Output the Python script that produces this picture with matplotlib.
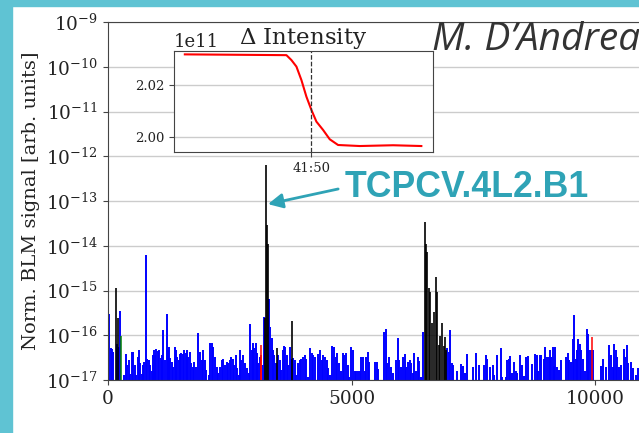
import numpy as np
import matplotlib
matplotlib.use('Agg')
import matplotlib.pyplot as plt
from matplotlib.patches import Rectangle

plt.rcParams['font.family'] = 'DejaVu Serif'
plt.rcParams['mathtext.fontset'] = 'dejavuserif'

# loss map: s position [m] and log10 of normalised BLM signal
blue_s = [27, 55, 82, 110, 178, 226, 253, 329, 370, 397, 424, 459, 493, 520, 554, 582, 609, 630, 657, 691,
          719, 746, 773, 808, 835, 869, 897, 924, 944, 965, 992, 1020, 1047, 1081, 1109, 1136, 1163, 1204,
          1232, 1252, 1273, 1307, 1334, 1369, 1396, 1423, 1451, 1478, 1506, 1540, 1567, 1594, 1622, 1649,
          1677, 1704, 1738, 1772, 1800, 1848, 1896, 1923, 1950, 1991, 2019, 2067, 2101, 2128, 2163, 2190,
          2231, 2265, 2306, 2340, 2368, 2402, 2436, 2470, 2498, 2532, 2566, 2594, 2621, 2648, 2683, 2710,
          2737, 2772, 2806, 2847, 2888, 2922, 2949, 2977, 3004, 3031, 3059, 3086, 3114, 3182, 3203, 3305,
          3333, 3360, 3387, 3415, 3442, 3497, 3531, 3558, 3586, 3613, 3634, 3668, 3702, 3729, 3757, 3805,
          3839, 3866, 3900, 3935, 3969, 4003, 4037, 4071, 4106, 4147, 4181, 4215, 4249, 4318, 4352, 4386,
          4420, 4455, 4489, 4523, 4564, 4605, 4640, 4674, 4708, 4749, 4783, 4817, 4852, 4886, 4920, 4954,
          4995, 5030, 5064, 5098, 5132, 5166, 5201, 5235, 5269, 5303, 5331, 5365, 5475, 5516, 5543, 5659,
          5707, 5735, 5769, 5803, 5851, 5913, 5947, 5974, 6008, 6056, 6091, 6125, 6159, 6193, 6227, 6262,
          6289, 6323, 6357, 6392, 6426, 6474, 6966, 7001, 7028, 7055, 7090, 7165, 7254, 7295, 7336, 7377,
          7494, 7549, 7617, 7720, 7761, 7788, 7836, 7898, 7925, 7980, 8062, 8089, 8171, 8192, 8226, 8260,
          8294, 8329, 8370, 8404, 8466, 8493, 8541, 8589, 8616, 8712, 8760, 8801, 8835, 8869, 8897, 8951,
          8979, 9013, 9047, 9075, 9102, 9129, 9164, 9170, 9211, 9252, 9293, 9409, 9437, 9471, 9512, 9546,
          9573, 9601, 9628, 9656, 9683, 9710, 9744, 9786, 9827, 9854, 9881, 9916, 9957, 10121, 10169,
          10223, 10278, 10319, 10360, 10388, 10422, 10456, 10490, 10538, 10593, 10620, 10648, 10675,
          10730, 10771, 10839, 10880]
blue_log = [-15.53, -16.28, -16.31, -16.37, -16.20, -16.26, -15.46, -16.89, -16.42, -16.67, -16.55, -16.87,
            -16.37, -16.38, -16.67, -16.89, -16.49, -16.33, -16.63, -16.87, -16.67, -16.59, -14.21, -16.52,
            -16.55, -16.67, -16.81, -16.44, -16.33, -16.44, -16.31, -16.35, -16.33, -16.50, -16.44, -15.88,
            -16.55, -15.53, -16.33, -16.26, -16.50, -16.59, -16.70, -16.26, -16.33, -16.48, -16.55, -16.42,
            -16.40, -16.42, -16.33, -16.40, -16.33, -16.48, -16.37, -16.63, -16.70, -16.59, -16.70, -15.94,
            -16.37, -16.55, -16.33, -16.55, -16.78, -16.89, -16.18, -16.18, -16.26, -16.48, -16.70, -16.85,
            -16.70, -16.55, -16.54, -16.67, -16.59, -16.63, -16.55, -16.48, -16.52, -16.67, -16.44, -16.74,
            -16.89, -16.34, -16.55, -16.44, -16.63, -16.74, -16.85, -15.75, -16.33, -16.18, -16.29, -16.18,
            -16.40, -16.63, -16.48, -16.67, -15.59, -15.20, -15.81, -16.07, -16.33, -16.44, -16.63, -16.44,
            -16.55, -16.78, -16.33, -16.24, -16.26, -16.44, -16.67, -16.26, -16.52, -16.50, -16.55, -16.89,
            -16.63, -16.55, -16.52, -16.48, -16.44, -16.52, -16.93, -16.28, -16.40, -16.44, -16.48, -16.42,
            -16.33, -16.55, -16.44, -16.48, -16.55, -16.74, -16.89, -16.23, -16.26, -16.48, -16.40, -16.63,
            -16.81, -16.40, -16.44, -16.40, -16.67, -16.93, -16.26, -16.33, -16.81, -16.81, -16.81, -16.81,
            -16.49, -16.48, -16.81, -16.49, -16.38, -16.60, -16.59, -16.59, -16.76, -15.93, -15.85, -16.63,
            -16.48, -16.70, -16.85, -16.55, -16.07, -16.55, -16.70, -16.48, -16.42, -16.70, -16.59, -16.55,
            -16.63, -16.85, -16.39, -16.79, -16.48, -16.57, -16.93, -15.92, -16.29, -16.37, -15.88, -16.63,
            -16.67, -16.81, -16.64, -16.69, -16.85, -16.42, -16.70, -16.39, -16.67, -16.67, -16.44, -16.52,
            -16.72, -16.67, -16.89, -16.44, -16.28, -16.93, -16.93, -16.55, -16.52, -16.46, -16.85, -16.59,
            -16.81, -16.84, -16.44, -16.67, -16.91, -16.49, -16.46, -16.65, -16.42, -16.44, -16.81, -16.44,
            -16.44, -16.52, -16.26, -16.48, -16.49, -16.34, -16.48, -16.26, -16.69, -16.26, -16.70, -16.78,
            -16.55, -16.48, -16.39, -16.55, -16.59, -16.09, -15.55, -16.52, -16.33, -16.09, -16.20, -16.34,
            -16.52, -16.81, -15.87, -15.97, -16.34, -16.33, -16.33, -16.69, -16.52, -16.70, -16.22, -16.44,
            -16.70, -16.20, -16.33, -16.48, -16.70, -16.67, -16.31, -16.48, -16.22, -16.63, -16.59, -16.74,
            -16.89, -16.74]

black_s = [157, 205, 3223, 3244, 3258, 3278, 3470, 3777, 6501, 6529, 6556, 6590, 6617, 6652, 6700, 6727,
           6754, 6795, 6823, 6857, 6898, 6925, 6946]
black_log = [-14.94, -15.61, -15.61, -12.20, -13.54, -13.95, -16.28, -15.68, -13.48, -13.97, -14.13,
             -14.94, -15.03, -15.73, -15.49, -14.69, -15.03, -16.22, -16.02, -15.73, -16.24, -16.03, -16.33]

red_s = [3134, 3150, 9929]
red_log = [-16.22, -16.45, -16.05]

green_s = [274]
green_log = [-16.02]

# inset: beam intensity around the event (seconds relative to 41:50)
t_sec = [-15.2, -3.0, -2.4, -1.8, -1.2, -0.6, 0.0, 0.6, 1.4, 2.2, 3.2, 5.8, 9.8, 13.2]
intensity = [2.0318, 2.0315, 2.0296, 2.0271, 2.0219, 2.0155, 2.0104, 2.0059, 2.0027, 1.9991,
             1.9969, 1.9965, 1.9968, 1.9965]
t_label = '41:50'

teal = '#2fa3b6'
frame = '#5fc3d3'

fig = plt.figure(figsize=(6.39, 4.33), dpi=100)
ax = fig.add_axes([108/639, 53/433, 584.4/639, 358/433])
ax.set_yscale('log')

bottom = 1e-18
ax.vlines(blue_s, bottom, 10.0**np.array(blue_log), color='#0000ff', lw=1.4)
ax.vlines(black_s, bottom, 10.0**np.array(black_log), color='black', lw=1.2)
ax.vlines(red_s, bottom, 10.0**np.array(red_log), color='red', lw=1.1)
ax.vlines(green_s, bottom, 10.0**np.array(green_log), color='green', lw=1.1)

ax.set_xlim(0, 12000)
ax.set_ylim(1e-17, 1e-9)
ax.set_yticks([10.0**k for k in range(-17, -8)])
ax.yaxis.set_minor_locator(matplotlib.ticker.NullLocator())
ax.set_xticks([0, 5000, 10000])
ax.tick_params(labelsize=13.3, length=3.5, color='#444444', labelcolor='#222222')
ax.yaxis.grid(True, color='#cccccc', lw=1)
ax.set_axisbelow(True)
for sp in ax.spines.values():
    sp.set_color('#444444')
ax.set_ylabel('Norm. BLM signal [arb. units]', fontsize=14, color='#222222')

# inset
ins = fig.add_axes([174/639, 1 - 152/433, 259/639, 101/433])
ins.plot(t_sec, np.array(intensity) * 1e11, color='red', lw=1.5)
ins.axvline(0, color='#333333', ls='--', lw=0.9)
ins.set_xlim(-16.5, 14.6)
ins.set_ylim(1.9942e11, 2.0331e11)
ins.set_yticks([2.00e11, 2.02e11])
ins.ticklabel_format(axis='y', style='sci', scilimits=(0, 0), useOffset=False)
ins.yaxis.get_offset_text().set_fontsize(13)
ins.set_xticks([0])
ins.set_xticklabels([t_label])
ins.tick_params(labelsize=9.5, length=3.5, color='#444444', labelcolor='#222222')
ins.yaxis.grid(True, color='#cccccc', lw=1)
ins.set_axisbelow(True)
for sp in ins.spines.values():
    sp.set_color('#444444')
ins.set_title(r'$\Delta$ Intensity', fontsize=16.5, pad=5, color='#222222')

# annotation
ax.annotate('TCPCV.4L2.B1', xy=(3285, 10**-13.07), xytext=(345, 433 - 197),
            textcoords='figure pixels', ha='left', va='baseline',
            fontsize=25.7, fontweight='bold', family='Liberation Sans', color=teal,
            arrowprops=dict(arrowstyle='-|>', color=teal, lw=2, relpos=(0, 0.5),
                            shrinkA=3, shrinkB=0, mutation_scale=22))

fig.text(432/639, 1 - 50/433, 'M. D\u2019Andrea', fontsize=28, style='italic',
         family='Open Sans', color='#333333', ha='left', va='baseline')

# slide frame
fig.patches.append(Rectangle((0, 0), 11.5/639, 1, transform=fig.transFigure, color=frame, zorder=5))
fig.patches.append(Rectangle((0, 1 - 6/433), 1, 6/433, transform=fig.transFigure, color=frame, zorder=5))

fig.savefig('out.png', dpi=100)
